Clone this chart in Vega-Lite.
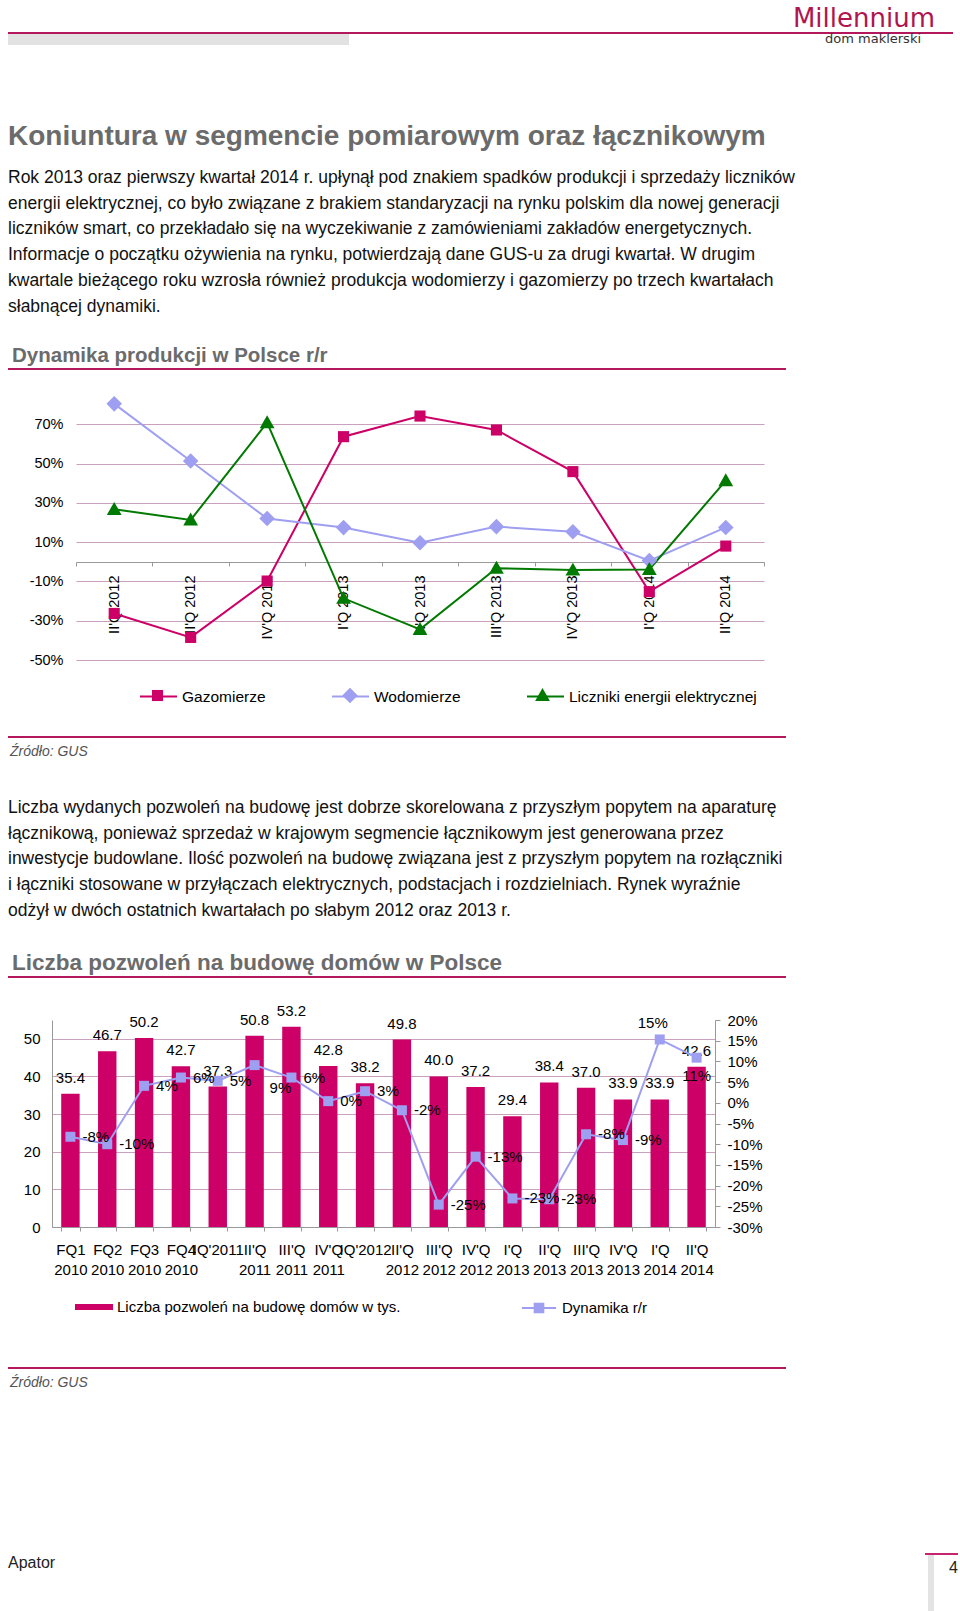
{
  "$schema": "https://vega.github.io/schema/vega-lite/v6.json",
  "background": "white",
  "padding": {"left": 8, "top": 0, "right": 0, "bottom": 0},
  "spacing": 0,
  "bounds": "flush",
  "resolve": {
    "scale": {"color": "independent", "fill": "independent", "stroke": "independent", "shape": "independent"},
    "legend": {"color": "independent", "fill": "independent", "stroke": "independent", "shape": "independent"}
  },
  "config": {
    "view": {"stroke": null},
    "font": "Liberation Sans",
    "title": {"font": "Liberation Sans", "subtitleFont": "Liberation Sans"},
    "axis": {"labelFont": "Liberation Sans", "titleFont": "Liberation Sans"},
    "legend": {"labelFont": "Liberation Sans"},
    "text": {"font": "Liberation Sans"}
  },
  "vconcat": [
    {"width": 945, "height": 32, "view": {"fill": "#ffffff"}, "data": {"values": []}, "mark": "point"},
    {"width": 945, "height": 2, "view": {"fill": "#b5175d"}, "data": {"values": []}, "mark": "point",
     "title": {"text": "Millennium", "orient": "top", "anchor": "end", "frame": "group", "offset": 0, "dx": -18, "font": "DejaVu Sans", "fontSize": 26, "fontWeight": "normal", "color": "#b0154f"}},
    {"width": 341, "height": 11, "view": {"fill": "#e2e2e2"}, "data": {"values": []}, "mark": "point",
     "title": {"text": "dom maklerski", "orient": "bottom", "anchor": "start", "frame": "group", "offset": -12, "dx": 817, "font": "DejaVu Sans", "fontSize": 13, "fontWeight": "normal", "color": "#333333"}},
    {"width": 778, "height": 79, "data": {"values": []}, "mark": "point",
     "title": {"text": "Koniuntura w segmencie pomiarowym oraz łącznikowym", "orient": "bottom", "anchor": "start", "frame": "group", "offset": -1, "fontSize": 28, "fontWeight": "bold", "color": "#6b6b6b",
       "subtitle": [
         "Rok 2013 oraz pierwszy kwartał 2014 r. upłynął pod znakiem spadków produkcji i sprzedaży liczników",
         "energii elektrycznej, co było związane z brakiem standaryzacji na rynku polskim dla nowej generacji",
         "liczników smart, co przekładało się na wyczekiwanie z zamówieniami zakładów energetycznych.",
         "Informacje o początku ożywienia na rynku, potwierdzają dane GUS-u za drugi kwartał. W drugim",
         "kwartale bieżącego roku wzrosła również produkcja wodomierzy i gazomierzy po trzech kwartałach",
         "słabnącej dynamiki."
       ],
       "subtitleFontSize": 17.5, "subtitleColor": "#111111", "subtitleLineHeight": 25.7, "subtitlePadding": 18}},
    {"width": 778, "height": 244, "data": {"values": []}, "mark": "point"},
    {"width": 778, "height": 2, "view": {"fill": "#b5175d"}, "data": {"values": []}, "mark": "point",
     "title": {"text": "Dynamika produkcji w Polsce r/r", "orient": "top", "anchor": "start", "frame": "group", "offset": 2, "dx": 4, "fontSize": 20.5, "fontWeight": "bold", "color": "#6b6b6b"}},
    {"width": 778, "height": 15, "data": {"values": []}, "mark": "point"},
    {
      "spacing": 0,
      "bounds": "flush",
      "resolve": {
        "scale": {"color": "independent", "fill": "independent", "stroke": "independent", "shape": "independent"},
        "legend": {"color": "independent", "fill": "independent", "stroke": "independent", "shape": "independent"}
      },
      "hconcat": [
        {"width": 68, "height": 275, "data": {"values": []}, "mark": "point"},
        {
          "width": 688,
          "height": 275,
          "data": {"values": [
            {"q": "II'Q 2012", "series": "Gazomierze", "v": -26.3},
            {"q": "III'Q 2012", "series": "Gazomierze", "v": -38.5},
            {"q": "IV'Q 2012", "series": "Gazomierze", "v": -9.8},
            {"q": "I'Q 2013", "series": "Gazomierze", "v": 63.7},
            {"q": "II'Q 2013", "series": "Gazomierze", "v": 74.2},
            {"q": "III'Q 2013", "series": "Gazomierze", "v": 67.1},
            {"q": "IV'Q 2013", "series": "Gazomierze", "v": 45.9},
            {"q": "I'Q 2014", "series": "Gazomierze", "v": -15.2},
            {"q": "II'Q 2014", "series": "Gazomierze", "v": 8.0},
            {"q": "II'Q 2012", "series": "Wodomierze", "v": 80.4},
            {"q": "III'Q 2012", "series": "Wodomierze", "v": 51.3},
            {"q": "IV'Q 2012", "series": "Wodomierze", "v": 22.0},
            {"q": "I'Q 2013", "series": "Wodomierze", "v": 17.4},
            {"q": "II'Q 2013", "series": "Wodomierze", "v": 9.7},
            {"q": "III'Q 2013", "series": "Wodomierze", "v": 17.9},
            {"q": "IV'Q 2013", "series": "Wodomierze", "v": 15.3},
            {"q": "I'Q 2014", "series": "Wodomierze", "v": 0.6},
            {"q": "II'Q 2014", "series": "Wodomierze", "v": 17.5},
            {"q": "II'Q 2012", "series": "Liczniki energii elektrycznej", "v": 26.7},
            {"q": "III'Q 2012", "series": "Liczniki energii elektrycznej", "v": 21.3},
            {"q": "IV'Q 2012", "series": "Liczniki energii elektrycznej", "v": 70.8},
            {"q": "I'Q 2013", "series": "Liczniki energii elektrycznej", "v": -18.6},
            {"q": "II'Q 2013", "series": "Liczniki energii elektrycznej", "v": -34.4},
            {"q": "III'Q 2013", "series": "Liczniki energii elektrycznej", "v": -3.3},
            {"q": "IV'Q 2013", "series": "Liczniki energii elektrycznej", "v": -4.2},
            {"q": "I'Q 2014", "series": "Liczniki energii elektrycznej", "v": -3.9},
            {"q": "II'Q 2014", "series": "Liczniki energii elektrycznej", "v": 41.3}
          ]},
          "encoding": {
            "x": {"field": "q", "type": "ordinal", "bandPosition": 0.5,
              "sort": ["II'Q 2012", "III'Q 2012", "IV'Q 2012", "I'Q 2013", "II'Q 2013", "III'Q 2013", "IV'Q 2013", "I'Q 2014", "II'Q 2014"],
              "scale": {"type": "band", "paddingInner": 0, "paddingOuter": 0},
              "axis": {"title": null, "orient": "bottom", "offset": -98, "labelAngle": 270, "labelFontSize": 14.5, "labelColor": "#000000", "labelPadding": 9, "tickBand": "extent", "ticks": true, "tickSize": 4, "tickColor": "#999999", "domainColor": "#999999", "grid": false, "labelOverlap": false, "labelBound": false, "labelFlush": false}},
            "y": {"field": "v", "type": "quantitative",
              "scale": {"domain": [-50, 90], "nice": false, "zero": false},
              "axis": {"title": null, "values": [-50, -30, -10, 10, 30, 50, 70], "labelExpr": "datum.value + '%'", "domain": false, "ticks": false, "grid": true, "gridColor": "#c9a0bd", "gridWidth": 1, "labelPadding": 13, "labelFontSize": 14.5, "labelColor": "#000000"}}
          },
          "layer": [
            {"mark": {"type": "line", "strokeWidth": 2},
             "encoding": {"color": {"field": "series", "type": "nominal",
               "sort": ["Gazomierze", "Wodomierze", "Liczniki energii elektrycznej"],
               "scale": {"range": ["#cc0066", "#9f9ff2", "#007a00"]},
               "legend": {"orient": "none", "legendX": 63, "legendY": 292, "direction": "horizontal", "title": null, "padding": 0,
                 "symbolType": "stroke", "symbolSize": 1369, "symbolStrokeWidth": 2, "labelFontSize": 15.5, "labelColor": "#000000", "labelOffset": 4, "columnPadding": 62, "labelLimit": 400}}}},
            {"mark": {"type": "point", "filled": true, "opacity": 1, "size": 1369},
             "encoding": {
               "fill": {"field": "series", "type": "nominal",
                 "scale": {"domain": ["Gazomierze", "Wodomierze", "Liczniki energii elektrycznej"], "range": ["#cc0066", "#9f9ff2", "#007a00"]},
                 "legend": {"orient": "none", "legendX": 63, "legendY": 292, "direction": "horizontal", "title": null, "padding": 0,
                   "symbolSize": 1369, "symbolStrokeWidth": 0, "labelFontSize": 15.5, "labelExpr": "''", "labelOffset": 4, "columnPadding": 151.5, "labelLimit": 400}},
               "shape": {"field": "series", "type": "nominal",
                 "scale": {"domain": ["Gazomierze", "Wodomierze", "Liczniki energii elektrycznej"], "range": ["M-0.3,-0.3H0.3V0.3H-0.3Z", "M0,-0.42L0.42,0L0,0.42L-0.42,0Z", "M0,-0.4L0.4,0.3H-0.4Z"]},
                 "legend": {"orient": "none", "legendX": 63, "legendY": 292, "direction": "horizontal", "title": null, "padding": 0,
                   "symbolSize": 1369, "symbolStrokeWidth": 0, "labelFontSize": 15.5, "labelExpr": "''", "labelOffset": 4, "columnPadding": 151.5, "labelLimit": 400}}
             }}
          ]
        }
      ]
    },
    {"width": 778, "height": 275, "data": {"values": []}, "mark": "point"},
    {"width": 778, "height": 76, "data": {"values": []}, "mark": "point"},
    {"width": 778, "height": 2, "view": {"fill": "#b5175d"}, "data": {"values": []}, "mark": "point",
     "title": {"text": "Źródło: GUS", "orient": "bottom", "anchor": "start", "frame": "group", "offset": 7, "dx": 2, "fontSize": 14, "fontStyle": "italic", "fontWeight": "normal", "color": "#555555"}},
    {"width": 778, "height": 61, "data": {"values": []}, "mark": "point",
     "title": {"text": [
         "Liczba wydanych pozwoleń na budowę jest dobrze skorelowana z przyszłym popytem na aparaturę",
         "łącznikową, ponieważ sprzedaż w krajowym segmencie łącznikowym jest generowana przez",
         "inwestycje budowlane. Ilość pozwoleń na budowę związana jest z przyszłym popytem na rozłączniki",
         "i łączniki stosowane w przyłączach elektrycznych, podstacjach i rozdzielniach. Rynek wyraźnie",
         "odżył w dwóch ostatnich kwartałach po słabym 2012 oraz 2013 r."
       ],
       "orient": "bottom", "anchor": "start", "frame": "group", "offset": 0, "fontSize": 17.5, "fontWeight": "normal", "color": "#111111", "lineHeight": 25.7}},
    {"width": 778, "height": 177, "data": {"values": []}, "mark": "point"},
    {"width": 778, "height": 2, "view": {"fill": "#b5175d"}, "data": {"values": []}, "mark": "point",
     "title": {"text": "Liczba pozwoleń na budowę domów w Polsce", "orient": "top", "anchor": "start", "frame": "group", "offset": 2, "dx": 4, "fontSize": 22.5, "fontWeight": "bold", "color": "#6b6b6b"}},
    {"width": 778, "height": 42, "data": {"values": []}, "mark": "point"},
    {
      "spacing": 0,
      "bounds": "flush",
      "resolve": {
        "scale": {"color": "independent", "fill": "independent", "stroke": "independent", "shape": "independent"},
        "legend": {"color": "independent", "fill": "independent", "stroke": "independent", "shape": "independent"}
      },
      "hconcat": [
        {"width": 44, "height": 207, "data": {"values": []}, "mark": "point"},
        {
          "width": 663,
          "height": 207,
          "data": {"values": [
            {"q": "FQ1 2010", "n": 35.4, "d": -8.2},
            {"q": "FQ2 2010", "n": 46.7, "d": -10.0},
            {"q": "FQ3 2010", "n": 50.2, "d": 4.1},
            {"q": "FQ4 2010", "n": 42.7, "d": 6.1},
            {"q": "IQ'2011", "n": 37.3, "d": 5.3},
            {"q": "II'Q 2011", "n": 50.8, "d": 9.1},
            {"q": "III'Q 2011", "n": 53.2, "d": 6.1},
            {"q": "IV'Q 2011", "n": 42.8, "d": 0.4},
            {"q": "IQ'2012", "n": 38.2, "d": 2.8},
            {"q": "II'Q 2012", "n": 49.8, "d": -1.8},
            {"q": "III'Q 2012", "n": 40.0, "d": -24.6},
            {"q": "IV'Q 2012", "n": 37.2, "d": -13.0},
            {"q": "I'Q 2013", "n": 29.4, "d": -23.1},
            {"q": "II'Q 2013", "n": 38.4, "d": -23.3},
            {"q": "III'Q 2013", "n": 37.0, "d": -7.6},
            {"q": "IV'Q 2013", "n": 33.9, "d": -9.0},
            {"q": "I'Q 2014", "n": 33.9, "d": 15.3},
            {"q": "II'Q 2014", "n": 42.6, "d": 10.9}
          ]},
          "encoding": {
            "x": {"field": "q", "type": "ordinal", "sort": null,
              "scale": {"type": "band", "paddingInner": 0.5, "paddingOuter": 0.25},
              "axis": {"title": null, "labelAngle": 0, "labelExpr": "split(datum.label, ' ')", "labelFontSize": 15, "labelColor": "#000000", "labelLineHeight": 20.5, "labelPadding": 11, "tickBand": "extent", "tickSize": 4, "tickColor": "#999999", "domainColor": "#999999", "labelOverlap": false, "labelBound": false, "labelFlush": false, "labelLimit": 0, "grid": false}}
          },
          "layer": [
            {
              "encoding": {"y": {"field": "n", "type": "quantitative", "scale": {"domain": [0, 55], "nice": false},
                "axis": {"title": null, "values": [0, 10, 20, 30, 40, 50], "grid": true, "gridColor": "#c9a0bd", "domain": true, "domainColor": "#999999", "ticks": false, "labelPadding": 12, "labelFontSize": 15, "labelColor": "#000000"}}},
              "layer": [
                {"mark": {"type": "bar"},
                 "encoding": {"fill": {"datum": "Liczba pozwoleń na budowę domów w tys.", "type": "nominal",
                   "scale": {"range": ["#cc0066"]},
                   "legend": {"orient": "none", "legendX": 23, "legendY": 268, "direction": "horizontal", "title": null, "padding": 0,
                     "symbolType": "M-1,-0.16H1V0.16H-1Z", "symbolSize": 1444, "symbolStrokeWidth": 0, "labelFontSize": 15, "labelColor": "#000000", "labelOffset": 4, "labelLimit": 500}}}},
                {"mark": {"type": "text", "dy": -11, "baseline": "alphabetic", "fontSize": 15, "color": "#000000"},
                 "encoding": {"text": {"field": "n", "type": "quantitative", "format": ".1f"}}}
              ]
            },
            {
              "encoding": {"y": {"field": "d", "type": "quantitative", "scale": {"domain": [-30, 20], "nice": false, "zero": false},
                "axis": {"title": null, "orient": "right", "values": [-30, -25, -20, -15, -10, -5, 0, 5, 10, 15, 20], "labelExpr": "datum.value + '%'", "grid": false, "domainColor": "#999999", "tickColor": "#999999", "tickSize": 5, "labelPadding": 7, "labelFontSize": 15, "labelColor": "#000000"}}},
              "layer": [
                {"mark": {"type": "line", "strokeWidth": 2},
                 "encoding": {"stroke": {"datum": "Dynamika r/r", "type": "nominal",
                   "scale": {"range": ["#9f9ff2"]},
                   "legend": {"orient": "none", "legendX": 468, "legendY": 269, "direction": "horizontal", "title": null, "padding": 0,
                     "symbolType": "M-0.95,0H0.95M-0.24,-0.24H0.24V0.24H-0.24Z", "symbolSize": 1296, "symbolStrokeWidth": 2, "labelFontSize": 15, "labelColor": "#000000", "labelOffset": 4, "labelLimit": 500}}}},
                {"mark": {"type": "point", "shape": "square", "size": 100, "filled": true, "opacity": 1},
                 "encoding": {"color": {"datum": "Dynamika r/r", "type": "nominal",
                   "scale": {"range": ["#9f9ff2"]},
                   "legend": {"orient": "none", "legendX": 468, "legendY": 269, "direction": "horizontal", "title": null, "padding": 0,
                     "symbolType": "M-0.95,0H0.95M-0.24,-0.24H0.24V0.24H-0.24Z", "symbolSize": 1296, "symbolStrokeWidth": 2, "labelFontSize": 15, "labelColor": "#000000", "labelOffset": 4, "labelLimit": 500}}}},
                {"transform": [{"filter": {"not": {"field": "q", "oneOf": ["II'Q 2011", "I'Q 2014", "II'Q 2014"]}}}],
                 "mark": {"type": "text", "align": "left", "baseline": "middle", "dx": 12, "fontSize": 15, "color": "#000000", "text": {"expr": "round(datum.d) + '%'"}}},
                {"transform": [{"filter": {"field": "q", "oneOf": ["II'Q 2011"]}}],
                 "mark": {"type": "text", "align": "left", "baseline": "middle", "dx": 15, "dy": 23, "fontSize": 15, "color": "#000000", "text": {"expr": "round(datum.d) + '%'"}}},
                {"transform": [{"filter": {"field": "q", "oneOf": ["I'Q 2014"]}}],
                 "mark": {"type": "text", "align": "center", "baseline": "middle", "dx": -7, "dy": -16, "fontSize": 15, "color": "#000000", "text": {"expr": "round(datum.d) + '%'"}}},
                {"transform": [{"filter": {"field": "q", "oneOf": ["II'Q 2014"]}}],
                 "mark": {"type": "text", "align": "center", "baseline": "middle", "dy": 18, "fontSize": 15, "color": "#000000", "text": {"expr": "round(datum.d) + '%'"}}}
              ]
            }
          ],
          "resolve": {"scale": {"y": "independent"}}
        }
      ]
    },
    {"width": 778, "height": 207, "data": {"values": []}, "mark": "point"},
    {"width": 778, "height": 140, "data": {"values": []}, "mark": "point"},
    {"width": 778, "height": 2, "view": {"fill": "#b5175d"}, "data": {"values": []}, "mark": "point",
     "title": {"text": "Źródło: GUS", "orient": "bottom", "anchor": "start", "frame": "group", "offset": 7, "dx": 2, "fontSize": 14, "fontStyle": "italic", "fontWeight": "normal", "color": "#555555"}},
    {"width": 778, "height": 184, "data": {"values": []}, "mark": "point"},
    {
      "spacing": 0,
      "bounds": "flush",
      "hconcat": [
        {"width": 917, "height": 2, "data": {"values": []}, "mark": "point",
         "title": {"text": "Apator", "orient": "bottom", "anchor": "start", "frame": "group", "offset": 0, "fontSize": 16, "fontWeight": "normal", "color": "#222222"}},
        {"width": 33, "height": 2, "view": {"fill": "#c8246e"}, "data": {"values": []}, "mark": "point",
         "title": {"text": "4", "orient": "bottom", "anchor": "end", "frame": "group", "offset": 5, "fontSize": 16, "fontWeight": "normal", "color": "#222222"}}
      ]
    },
    {"width": 778, "height": 2, "data": {"values": []}, "mark": "point"},
    {
      "spacing": 0,
      "bounds": "flush",
      "hconcat": [
        {"width": 920, "height": 56, "data": {"values": []}, "mark": "point"},
        {"width": 6, "height": 56, "view": {"fill": "#e3e3e3"}, "data": {"values": []}, "mark": "point"}
      ]
    },
    {"width": 778, "height": 56, "data": {"values": []}, "mark": "point"}
  ]
}
